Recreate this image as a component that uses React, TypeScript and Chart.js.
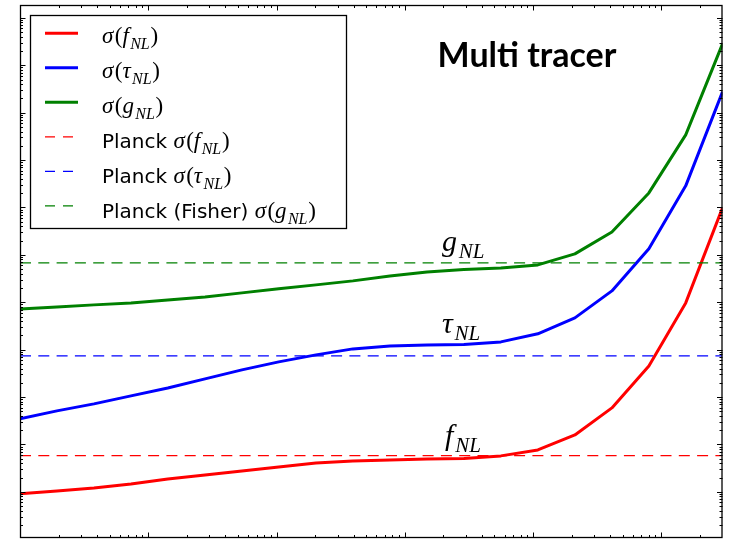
import { useEffect, useRef } from "react";
import { Chart, registerables } from "chart.js";

Chart.register(...registerables);

// Sample positions along the (logarithmic) horizontal axis
const sampleX = [1, 1.94, 3.77, 7.33, 14.2, 27.7, 53.7, 104, 203, 394, 766, 1490, 2890, 5610, 10900, 21200, 41200, 80000, 155000, 300000];

// Forecast 1-sigma errors
const sigmaFNL = [0.91, 1.05, 1.21, 1.47, 1.88, 2.28, 2.77, 3.37, 4.09, 4.51, 4.73, 4.97, 5.09, 5.75, 7.69, 15.9, 59.2, 455, 9710, 982000];
const sigmaTauNL = [34.7, 51.2, 71.9, 106, 156, 242, 375, 553, 777, 1040, 1200, 1260, 1290, 1460, 2160, 4690, 17400, 134000, 2.86e6, 2.75e8];
const sigmaGNL = [7260, 8000, 8820, 9710, 11200, 13000, 15800, 19200, 23300, 28300, 36000, 43800, 49400, 53200, 61500, 105000, 305000, 2.03e6, 3.4e7, 2.83e9];

// Planck reference levels
const planckFNL = 5.8;
const planckTauNL = 740;
const planckGNL = 67800;

// Axis limits
const xLimits = [1, 3e5];
const yLimits = [0.1065, 1.87e10];

const RED = "#ff0000";
const BLUE = "#0000ff";
const GREEN = "#008000";

const MATH_FONT = '"Liberation Serif", serif';
const SANS_FONT = '"DejaVu Sans", sans-serif';

type Piece = [string, "i" | "r" | "s" | "t"];

function drawPieces(ctx: CanvasRenderingContext2D, x: number, y: number, pieces: Piece[], size: number, sansSize: number) {
  let cx = x;
  ctx.textBaseline = "alphabetic";
  ctx.textAlign = "left";
  for (const [text, kind] of pieces) {
    let font = "";
    let dy = 0;
    if (kind === "i") font = `italic ${size}px ${MATH_FONT}`;
    else if (kind === "r") font = `${size}px ${MATH_FONT}`;
    else if (kind === "s") {
      font = `italic ${Math.round(size * 0.7)}px ${MATH_FONT}`;
      dy = size * 0.24;
    } else font = `${sansSize}px ${SANS_FONT}`;
    ctx.font = font;
    ctx.fillText(text, cx, y + dy);
    cx += ctx.measureText(text).width + (kind === "i" ? size * 0.06 : kind === "s" ? size * 0.03 : 0);
  }
}

const sigma = (sym: string): Piece[] => [["σ", "i"], ["(", "r"], [sym, "i"], ["NL", "s"], [")", "r"]];

const legendRows: { color: string; dashed: boolean; pieces: Piece[] }[] = [
  { color: RED, dashed: false, pieces: sigma("f") },
  { color: BLUE, dashed: false, pieces: sigma("τ") },
  { color: GREEN, dashed: false, pieces: sigma("g") },
  { color: RED, dashed: true, pieces: [["Planck ", "t"], ...sigma("f")] },
  { color: BLUE, dashed: true, pieces: [["Planck ", "t"], ...sigma("τ")] },
  { color: GREEN, dashed: true, pieces: [["Planck (Fisher) ", "t"], ...sigma("g")] },
];

const decorations = {
  id: "decorations",
  afterDraw(chart: Chart) {
    const ctx = chart.ctx;
    const area = chart.chartArea;
    const xs = chart.scales.x;
    const ys = chart.scales.y;
    ctx.save();

    // Frame
    ctx.strokeStyle = "#000";
    ctx.lineWidth = 1.3;
    ctx.strokeRect(area.left + 0.5, area.top + 0.5, area.right - area.left - 1, area.bottom - area.top - 1);

    // Inward ticks on all four sides
    ctx.lineWidth = 1;
    const tickX = (v: number, len: number) => {
      const p = Math.round(xs.getPixelForValue(v)) + 0.5;
      if (p < area.left || p > area.right) return;
      ctx.beginPath();
      ctx.moveTo(p, area.bottom);
      ctx.lineTo(p, area.bottom - len);
      ctx.moveTo(p, area.top);
      ctx.lineTo(p, area.top + len);
      ctx.stroke();
    };
    const tickY = (v: number, len: number) => {
      const p = Math.round(ys.getPixelForValue(v)) + 0.5;
      if (p < area.top || p > area.bottom) return;
      ctx.beginPath();
      ctx.moveTo(area.left, p);
      ctx.lineTo(area.left + len, p);
      ctx.moveTo(area.right, p);
      ctx.lineTo(area.right - len, p);
      ctx.stroke();
    };
    for (let k = 0; k <= 5; k++) {
      const base = Math.pow(10, k);
      if (base >= xLimits[0] && base <= xLimits[1]) tickX(base, 5.5);
      for (let m = 2; m <= 9; m++) {
        const v = m * base;
        if (v > xLimits[0] && v < xLimits[1]) tickX(v, 3);
      }
    }
    for (let k = -1; k <= 10; k++) {
      const base = Math.pow(10, k);
      if (base >= yLimits[0] && base <= yLimits[1]) tickY(base, 5.5);
      for (let m = 2; m <= 9; m++) {
        const v = m * base;
        if (v > yLimits[0] && v < yLimits[1]) tickY(v, 3);
      }
    }

    // Title
    ctx.fillStyle = "#000";
    ctx.font = 'bold 34px Lato, "Open Sans", sans-serif';
    ctx.textAlign = "center";
    ctx.textBaseline = "alphabetic";
    ctx.fillText("Multi tracer", 527, 67);

    // Curve labels
    drawPieces(ctx, 442, 251, [["g", "i"], ["NL", "s"]], 30, 20);
    drawPieces(ctx, 442, 333, [["τ", "i"], ["NL", "s"]], 30, 20);
    drawPieces(ctx, 445, 445, [["f", "i"], ["NL", "s"]], 30, 20);

    // Legend
    ctx.fillStyle = "#fff";
    ctx.fillRect(30, 15, 316, 213);
    ctx.strokeStyle = "#000";
    ctx.lineWidth = 1.3;
    ctx.strokeRect(30.5, 15.5, 316, 213);
    legendRows.forEach((row, i) => {
      const ly = 33.3 + 34.5 * i;
      ctx.strokeStyle = row.color;
      ctx.lineWidth = row.dashed ? 1.3 : 3;
      ctx.setLineDash(row.dashed ? [10, 8] : []);
      ctx.beginPath();
      ctx.moveTo(45, ly);
      ctx.lineTo(78, ly);
      ctx.stroke();
      ctx.setLineDash([]);
      ctx.fillStyle = "#000";
      drawPieces(ctx, 102, 43 + 35 * i, row.pieces, 23, 20);
    });

    ctx.restore();
  },
};

const points = (ys: number[]) => sampleX.map((x, i) => ({ x, y: ys[i] }));
const level = (y: number) => [
  { x: xLimits[0], y },
  { x: xLimits[1], y },
];

export default function App() {
  const canvasRef = useRef<HTMLCanvasElement | null>(null);

  useEffect(() => {
    const canvas = canvasRef.current;
    if (!canvas) return;
    const chart = new Chart(canvas, {
      type: "line",
      data: {
        datasets: [
          { label: "Planck σ(fNL)", data: level(planckFNL), borderColor: RED, borderWidth: 1.3, borderDash: [11, 7.3] },
          { label: "Planck σ(τNL)", data: level(planckTauNL), borderColor: BLUE, borderWidth: 1.3, borderDash: [11, 7.3] },
          { label: "Planck (Fisher) σ(gNL)", data: level(planckGNL), borderColor: GREEN, borderWidth: 1.3, borderDash: [11, 7.3] },
          { label: "σ(fNL)", data: points(sigmaFNL), borderColor: RED, borderWidth: 3 },
          { label: "σ(τNL)", data: points(sigmaTauNL), borderColor: BLUE, borderWidth: 3 },
          { label: "σ(gNL)", data: points(sigmaGNL), borderColor: GREEN, borderWidth: 3 },
        ],
      },
      options: {
        responsive: false,
        animation: false,
        parsing: true,
        layout: { padding: { left: 20, top: 5, right: 6.5, bottom: 1 } },
        elements: { point: { radius: 0 }, line: { tension: 0, borderJoinStyle: "round", borderCapStyle: "butt" } },
        plugins: { legend: { display: false }, tooltip: { enabled: false } },
        scales: {
          x: { type: "logarithmic", min: xLimits[0], max: xLimits[1], display: false },
          y: { type: "logarithmic", min: yLimits[0], max: yLimits[1], display: false },
        },
      },
      plugins: [decorations],
    });
    return () => chart.destroy();
  }, []);

  return (
    <div style={{ position: "absolute", left: 0, top: 0, width: 729, height: 539, background: "#fff" }}>
      <canvas ref={canvasRef} width={729} height={539} style={{ display: "block" }} />
    </div>
  );
}
